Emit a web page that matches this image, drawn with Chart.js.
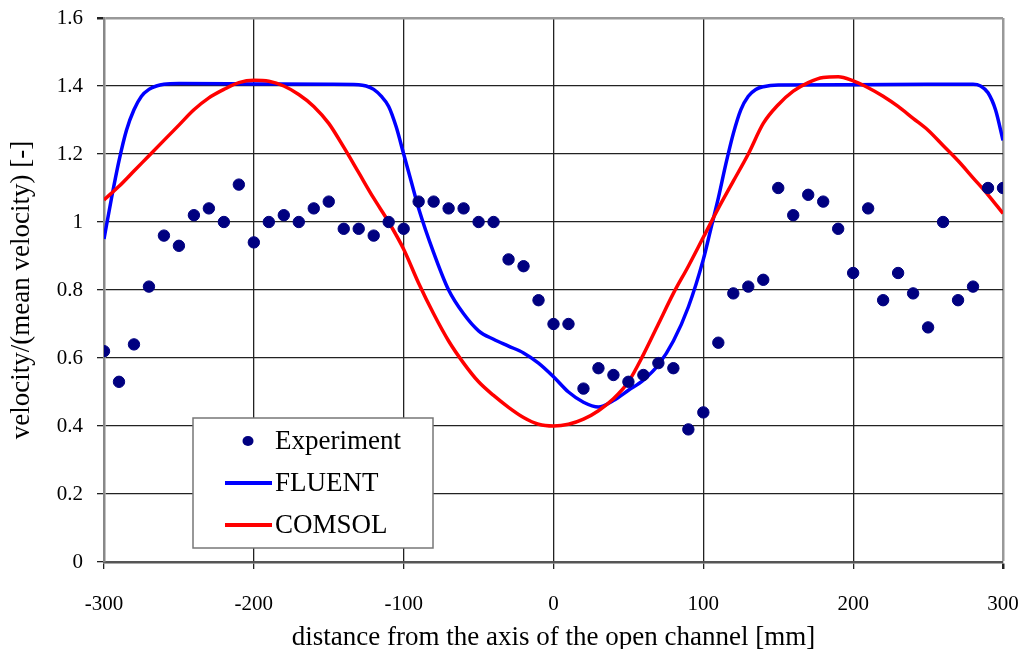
<!DOCTYPE html>
<html>
<head>
<meta charset="utf-8">
<script src="https://cdn.jsdelivr.net/npm/chart.js@4.4.0/dist/chart.umd.min.js"></script>
<style>
html,body{margin:0;padding:0;background:#fff;}
#wrap{width:1024px;height:649px;position:relative;}
</style>
</head>
<body>
<div id="wrap"><canvas id="c" width="1024" height="649"></canvas></div>
<script>
// ---- data ----
const expX = [-300,-290,-280,-270,-260,-250,-240,-230,-220,-210,-200,-190,-180,-170,-160,-150,-140,-130,-120,-110,-100,-90,-80,-70,-60,-50,-40,-30,-20,-10,0,10,20,30,40,50,60,70,80,90,100,110,120,130,140,150,160,170,180,190,200,210,220,230,240,250,260,270,280,290,300];
const expY = [0.62,0.53,0.64,0.81,0.96,0.93,1.02,1.04,1.00,1.11,0.94,1.00,1.02,1.00,1.04,1.06,0.98,0.98,0.96,1.00,0.98,1.06,1.06,1.04,1.04,1.00,1.00,0.89,0.87,0.77,0.70,0.70,0.51,0.57,0.55,0.53,0.55,0.585,0.57,0.39,0.44,0.645,0.79,0.81,0.83,1.10,1.02,1.08,1.06,0.98,0.85,1.04,0.77,0.85,0.79,0.69,1.00,0.77,0.81,1.10,1.10];

const fluentX = [-300,-295,-290,-285,-280,-275,-270,-265,-260,-250,-200,-150,-130,-125,-120,-115,-110,-105,-100,-95,-90,-80,-70,-60,-50,-40,-30,-20,-10,0,10,20,30,40,50,60,70,80,90,100,105,110,115,120,125,130,135,140,150,200,250,280,285,290,295,300];
const fluentY = [0.95,1.07,1.18,1.27,1.33,1.37,1.39,1.40,1.405,1.407,1.406,1.405,1.404,1.40,1.39,1.37,1.34,1.28,1.20,1.12,1.04,0.91,0.80,0.73,0.68,0.655,0.635,0.615,0.585,0.545,0.50,0.47,0.456,0.475,0.505,0.535,0.58,0.65,0.75,0.89,0.98,1.07,1.17,1.26,1.33,1.37,1.39,1.398,1.403,1.404,1.405,1.405,1.40,1.38,1.33,1.24];

const comsolX = [-300,-290,-280,-270,-260,-250,-240,-230,-220,-210,-200,-190,-180,-170,-160,-150,-140,-130,-120,-110,-100,-90,-80,-70,-60,-50,-40,-30,-20,-10,0,10,20,30,40,50,60,70,80,90,100,110,120,130,140,150,160,170,180,190,200,210,220,230,240,250,260,270,280,290,300];
const comsolY = [1.065,1.105,1.15,1.195,1.24,1.285,1.33,1.365,1.39,1.41,1.417,1.414,1.40,1.375,1.34,1.29,1.22,1.145,1.07,1.00,0.92,0.82,0.73,0.65,0.585,0.53,0.49,0.455,0.425,0.405,0.40,0.405,0.42,0.445,0.48,0.53,0.61,0.70,0.79,0.87,0.955,1.04,1.12,1.20,1.29,1.345,1.385,1.41,1.425,1.427,1.415,1.395,1.37,1.34,1.305,1.27,1.225,1.18,1.13,1.08,1.025];

const seriesNames = ['Experiment','FLUENT','COMSOL'];
const xTitle = 'distance from the axis of the open channel [mm]';
const yTitle = 'velocity/(mean velocity) [-]';

const pts = (xs, ys) => xs.map((x, i) => ({x: x, y: ys[i]}));
const serif = "'Liberation Serif','DejaVu Serif',serif";

const legendPlugin = {
  id: 'boxLegend',
  afterDraw(chart) {
    const ctx = chart.ctx, a = chart.chartArea;
    const L = a.left + 89, T = a.top + 400, W = 240, H = 130;
    ctx.save();
    ctx.fillStyle = '#fff';
    ctx.fillRect(L, T, W, H);
    ctx.strokeStyle = '#777';
    ctx.lineWidth = 1.5;
    ctx.strokeRect(L, T, W, H);
    const ds = chart.data.datasets;
    const rows = [T + 23, T + 65, T + 107];
    ctx.fillStyle = ds[0].backgroundColor;
    ctx.beginPath();
    ctx.ellipse(L + 55, rows[0], 5.5, 5, 0, 0, Math.PI * 2);
    ctx.fill();
    for (let i = 1; i < 3; i++) {
      ctx.strokeStyle = ds[i].borderColor;
      ctx.lineWidth = 4;
      ctx.beginPath();
      ctx.moveTo(L + 32, rows[i]);
      ctx.lineTo(L + 79, rows[i]);
      ctx.stroke();
    }
    ctx.fillStyle = '#000';
    ctx.font = '27px ' + serif;
    ctx.textBaseline = 'middle';
    ctx.textAlign = 'left';
    for (let i = 0; i < 3; i++) ctx.fillText(ds[i].label, L + 82, rows[i] + 1);
    ctx.restore();
  }
};

new Chart(document.getElementById('c'), {
  type: 'scatter',
  data: {
    datasets: [
      {label: seriesNames[0], data: pts(expX, expY), backgroundColor: '#000080', borderColor: '#000080', pointRadius: 5.7, pointHoverRadius: 5.7, showLine: false, order: 0},
      {label: seriesNames[1], data: pts(fluentX, fluentY), type: 'line', borderColor: '#0000ff', backgroundColor: '#0000ff', borderWidth: 3.5, pointRadius: 0, cubicInterpolationMode: 'monotone', fill: false, order: 2},
      {label: seriesNames[2], data: pts(comsolX, comsolY), type: 'line', borderColor: '#ff0000', backgroundColor: '#ff0000', borderWidth: 3.5, pointRadius: 0, cubicInterpolationMode: 'monotone', fill: false, order: 1}
    ]
  },
  options: {
    responsive: false,
    animation: false,
    events: [],
    layout: {padding: {left: 0, right: 21, top: 18, bottom: 0}},
    plugins: {legend: {display: false}, tooltip: {enabled: false}},
    scales: {
      x: {
        type: 'linear', min: -300, max: 300,
        afterFit(s) { s.height = 87; s.paddingLeft = 0; s.paddingRight = 0; },
        ticks: {stepSize: 100, color: '#000', font: {family: serif, size: 21}, padding: 23},
        grid: {
          color: (c) => (c.tick && c.tick.value === 300) ? '#999' : '#222',
          lineWidth: (c) => (c.tick && c.tick.value === 300) ? 2.5 : 1.3,
          tickColor: '#222', tickLength: 7
        },
        border: {color: '#555', width: 2.5},
        title: {display: true, text: xTitle, color: '#000', font: {family: serif, size: 27, lineHeight: 1}, padding: {top: 0, bottom: -2}}
      },
      y: {
        min: 0, max: 1.6,
        afterFit(s) { s.width = 104; s.paddingTop = 0; s.paddingBottom = 0; },
        ticks: {stepSize: 0.2, color: '#000', font: {family: serif, size: 21}, padding: 14,
          callback: (v) => (Math.round(v * 10) / 10).toString()},
        grid: {
          color: (c) => (c.tick && Math.abs(c.tick.value - 1.6) < 1e-6) ? '#999' : '#222',
          lineWidth: (c) => (c.tick && Math.abs(c.tick.value - 1.6) < 1e-6) ? 2.5 : 1.3,
          tickColor: '#222', tickLength: 7
        },
        border: {color: '#888', width: 2.5},
        title: {display: true, text: yTitle, color: '#000', font: {family: serif, size: 27, lineHeight: 1}, padding: {top: 8, bottom: 0}}
      }
    }
  },
  plugins: [legendPlugin]
});
</script>
</body>
</html>
